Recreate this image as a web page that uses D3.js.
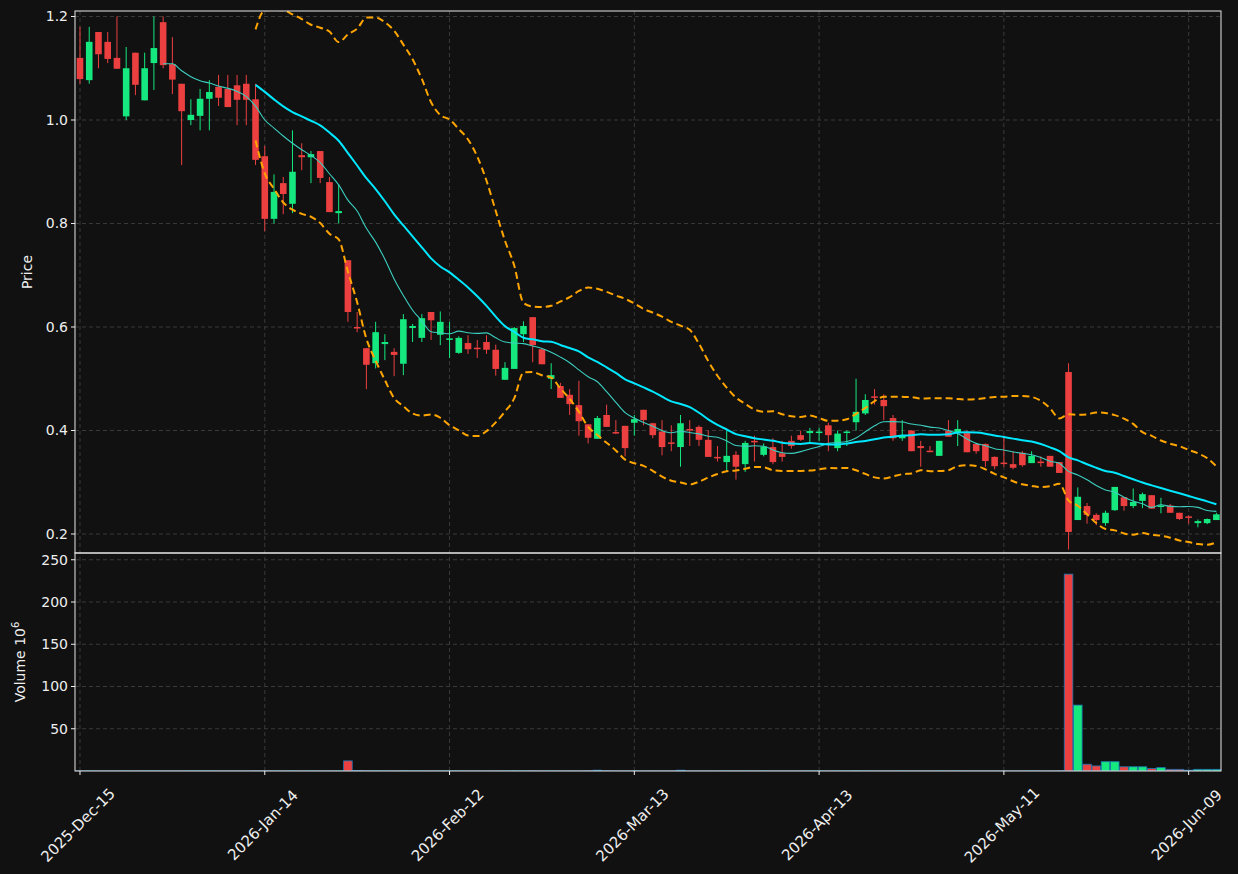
<!DOCTYPE html>
<html><head><meta charset="utf-8">
<script src="https://cdn.jsdelivr.net/npm/d3@7"></script>
<style>body{margin:0;background:#111111;}svg{display:block;font-family:"DejaVu Sans",sans-serif;}</style>
</head><body><svg id="c" width="1238" height="874"></svg>
<script>
const tickLabels=["2025-Dec-15","2026-Jan-14","2026-Feb-12","2026-Mar-13","2026-Apr-13","2026-May-11","2026-Jun-09"];
const tickIdx=[0,20,40,60,80,100,120];
const opens=[1.120,1.077,1.170,1.151,1.120,1.007,1.130,1.038,1.110,1.189,1.108,1.070,1.000,1.008,1.041,1.064,1.060,1.067,1.070,1.040,
0.930,0.809,0.878,0.838,0.932,0.928,0.940,0.880,0.820,0.729,0.600,0.559,0.530,0.567,0.552,0.529,0.598,0.579,0.629,0.585,
0.576,0.550,0.569,0.560,0.571,0.556,0.498,0.519,0.586,0.619,0.557,0.500,0.486,0.469,0.449,0.412,0.384,0.430,0.397,0.409,
0.415,0.440,0.414,0.398,0.377,0.368,0.403,0.407,0.382,0.349,0.339,0.353,0.335,0.380,0.353,0.368,0.356,0.380,0.391,0.395,
0.397,0.410,0.366,0.396,0.416,0.433,0.466,0.459,0.424,0.385,0.400,0.370,0.361,0.351,0.399,0.397,0.395,0.374,0.374,0.349,
0.338,0.335,0.357,0.337,0.340,0.351,0.339,0.513,0.227,0.254,0.237,0.221,0.246,0.271,0.254,0.264,0.275,0.253,0.255,0.241,
0.234,0.221,0.221,0.227];
const closes=[1.079,1.151,1.127,1.118,1.099,1.100,1.068,1.100,1.139,1.106,1.078,1.017,1.010,1.041,1.054,1.043,1.025,1.039,1.039,0.923,
0.809,0.861,0.857,0.900,0.928,0.934,0.888,0.822,0.824,0.629,0.598,0.527,0.590,0.571,0.546,0.615,0.602,0.617,0.613,0.610,
0.578,0.579,0.557,0.559,0.556,0.519,0.521,0.598,0.602,0.565,0.528,0.507,0.463,0.451,0.418,0.386,0.424,0.407,0.396,0.366,
0.422,0.420,0.391,0.368,0.376,0.414,0.400,0.382,0.349,0.348,0.351,0.330,0.376,0.378,0.369,0.339,0.349,0.370,0.382,0.399,
0.398,0.391,0.394,0.398,0.436,0.459,0.464,0.447,0.385,0.391,0.360,0.366,0.360,0.380,0.388,0.403,0.358,0.360,0.341,0.331,
0.337,0.328,0.333,0.351,0.337,0.330,0.318,0.204,0.272,0.237,0.227,0.241,0.291,0.254,0.262,0.277,0.249,0.255,0.241,0.229,
0.232,0.225,0.229,0.238];
const highs=[1.180,1.180,1.170,1.170,1.200,1.141,1.130,1.130,1.200,1.200,1.160,1.070,1.040,1.060,1.077,1.087,1.087,1.087,1.087,1.070,
0.950,0.895,0.890,0.980,0.955,0.940,0.940,0.890,0.876,0.729,0.629,0.559,0.610,0.586,0.559,0.625,0.606,0.625,0.629,0.630,
0.610,0.582,0.584,0.575,0.584,0.566,0.532,0.600,0.611,0.619,0.557,0.530,0.492,0.480,0.496,0.412,0.428,0.450,0.420,0.409,
0.430,0.440,0.415,0.420,0.410,0.430,0.420,0.410,0.400,0.370,0.400,0.360,0.380,0.390,0.375,0.385,0.380,0.390,0.400,0.405,
0.405,0.415,0.400,0.400,0.500,0.470,0.480,0.470,0.430,0.420,0.400,0.380,0.370,0.380,0.420,0.420,0.400,0.375,0.375,0.350,
0.390,0.360,0.360,0.360,0.350,0.351,0.339,0.530,0.290,0.260,0.240,0.245,0.291,0.271,0.288,0.280,0.275,0.270,0.258,0.241,
0.236,0.228,0.230,0.241];
const lows=[1.070,1.070,1.100,1.110,1.099,1.000,1.048,1.038,1.058,1.100,1.050,0.913,0.990,0.980,0.980,1.027,1.027,0.990,0.990,0.913,
0.785,0.800,0.818,0.820,0.903,0.878,0.878,0.822,0.800,0.610,0.590,0.480,0.520,0.536,0.505,0.507,0.571,0.571,0.575,0.565,
0.540,0.548,0.548,0.540,0.548,0.506,0.498,0.519,0.571,0.532,0.528,0.480,0.463,0.430,0.390,0.375,0.384,0.407,0.393,0.350,
0.390,0.410,0.385,0.352,0.360,0.330,0.370,0.370,0.349,0.340,0.320,0.305,0.320,0.340,0.350,0.335,0.340,0.365,0.380,0.375,
0.380,0.360,0.360,0.370,0.400,0.430,0.450,0.420,0.380,0.380,0.360,0.330,0.360,0.351,0.388,0.370,0.358,0.355,0.330,0.325,
0.330,0.325,0.330,0.337,0.330,0.330,0.318,0.170,0.227,0.220,0.217,0.216,0.245,0.245,0.250,0.250,0.249,0.240,0.241,0.227,
0.220,0.213,0.219,0.227];
const volumes=[0.2,0.2,0.2,0.2,0.2,0.2,0.2,0.2,0.2,0.2,0.2,0.2,0.2,0.2,0.2,0.2,0.2,0.2,0.2,0.3,
0.3,0.2,0.2,0.2,0.2,0.2,0.2,0.2,0.2,12,0.5,0.3,0.3,0.2,0.2,0.3,0.2,0.2,0.2,0.2,
0.2,0.2,0.2,0.2,0.2,0.2,0.2,0.3,0.2,0.3,0.2,0.2,0.2,0.2,0.2,0.3,1.0,0.3,0.2,0.2,
0.2,0.2,0.2,0.2,0.2,1.0,0.2,0.2,0.2,0.2,0.2,0.2,0.2,0.2,0.2,0.2,0.2,0.2,0.2,0.2,
0.2,0.2,0.2,0.2,0.3,0.2,0.2,0.2,0.2,0.2,0.2,0.2,0.2,0.2,0.2,0.2,0.2,0.2,0.2,0.2,
0.2,0.2,0.2,0.2,0.2,0.2,0.3,233,78,8,6,11,11,5,5,5,3,4,2,2,
1,2,2,2];
const priceTicks=[0.2,0.4,0.6,0.8,1.0,1.2];
const volTicks=[50,100,150,200,250];

const svg=d3.select("#c");
const L=75,R=1221,PT=11,PB=553,VB=771;
const n=closes.length;
const x=d3.scaleLinear().domain([-0.54,123.5]).range([L,R]);
const y=d3.scaleLinear().domain([0.1633,1.2106]).range([PB,PT]);
const yv=d3.scaleLinear().domain([0,258]).range([VB,PB]);
const UP="#14e87f",DN="#ec3f40",GRID="#3a3a3a",TXT="#eeeeee";

function sma(p){return closes.map((c,i)=>i<p-1?null:d3.mean(closes.slice(i-p+1,i+1)));}
const ma10=sma(10),ma20=sma(20);
const bbU=closes.map((c,i)=>i<19?null:ma20[i]+2*d3.deviation(closes.slice(i-19,i+1)));
const bbL=closes.map((c,i)=>i<19?null:ma20[i]-2*d3.deviation(closes.slice(i-19,i+1)));

svg.append("clipPath").attr("id","pc").append("rect").attr("x",L).attr("y",PT).attr("width",R-L).attr("height",PB-PT);
svg.append("clipPath").attr("id","vc").append("rect").attr("x",L).attr("y",PB).attr("width",R-L).attr("height",VB-PB);

const g=svg.append("g");
tickIdx.forEach(i=>{g.append("line").attr("x1",x(i)).attr("x2",x(i)).attr("y1",PT).attr("y2",VB).attr("stroke",GRID).attr("stroke-dasharray","4,3");});
priceTicks.forEach(t=>{g.append("line").attr("x1",L).attr("x2",R).attr("y1",y(t)).attr("y2",y(t)).attr("stroke",GRID).attr("stroke-dasharray","4,3");});
volTicks.forEach(t=>{g.append("line").attr("x1",L).attr("x2",R).attr("y1",yv(t)).attr("y2",yv(t)).attr("stroke",GRID).attr("stroke-dasharray","4,3");});

const pg=svg.append("g").attr("clip-path","url(#pc)");
const idx=d3.range(n);
pg.selectAll(".w").data(idx).join("line").attr("x1",i=>x(i)).attr("x2",i=>x(i))
 .attr("y1",i=>y(highs[i])).attr("y2",i=>y(lows[i])).attr("stroke",i=>closes[i]>=opens[i]?UP:DN).attr("stroke-width",1);
pg.selectAll(".b").data(idx).join("rect").attr("x",i=>x(i)-3.3).attr("width",6.6)
 .attr("y",i=>y(Math.max(opens[i],closes[i]))).attr("height",i=>Math.max(1.5,Math.abs(y(opens[i])-y(closes[i]))))
 .attr("fill",i=>closes[i]>=opens[i]?UP:DN);
const line=d3.line().defined(d=>d[1]!=null).x(d=>x(d[0])).y(d=>y(d[1])).curve(d3.curveMonotoneX);
pg.append("path").attr("d",line(ma10.map((v,i)=>[i,v]))).attr("fill","none").attr("stroke","#3ccfc0").attr("stroke-width",1.1);
pg.append("path").attr("d",line(ma20.map((v,i)=>[i,v]))).attr("fill","none").attr("stroke","#00e8ff").attr("stroke-width",2);
[bbU,bbL].forEach(b=>pg.append("path").attr("d",line(b.map((v,i)=>[i,v]))).attr("fill","none").attr("stroke","#ffa500").attr("stroke-width",2).attr("stroke-dasharray","7,4"));

const vg=svg.append("g").attr("clip-path","url(#vc)");
vg.selectAll("rect").data(idx).join("rect").attr("x",i=>x(i)-4.3).attr("width",8.6)
 .attr("y",i=>yv(volumes[i])).attr("height",i=>VB-yv(volumes[i]))
 .attr("fill",i=>closes[i]>=opens[i]?UP:DN).attr("stroke","#1f77b4").attr("stroke-width",0.8);

svg.append("rect").attr("x",L).attr("y",PT).attr("width",R-L).attr("height",PB-PT).attr("fill","none").attr("stroke","#e8e8e8");
svg.append("rect").attr("x",L).attr("y",PB).attr("width",R-L).attr("height",VB-PB).attr("fill","none").attr("stroke","#e8e8e8");

const ax=svg.append("g").attr("fill",TXT).attr("font-size",14);
priceTicks.forEach(t=>{ax.append("line").attr("x1",L-4).attr("x2",L).attr("y1",y(t)).attr("y2",y(t)).attr("stroke",TXT);
 ax.append("text").attr("x",L-7).attr("y",y(t)).attr("dy","0.35em").attr("text-anchor","end").text(d3.format(".1f")(t));});
volTicks.forEach(t=>{ax.append("line").attr("x1",L-4).attr("x2",L).attr("y1",yv(t)).attr("y2",yv(t)).attr("stroke",TXT);
 ax.append("text").attr("x",L-7).attr("y",yv(t)).attr("dy","0.35em").attr("text-anchor","end").text(t);});
tickIdx.forEach((i,k)=>{ax.append("line").attr("x1",x(i)).attr("x2",x(i)).attr("y1",VB).attr("y2",VB+4).attr("stroke",TXT);
 ax.append("text").attr("transform",`translate(${x(i)-2},${VB+54}) rotate(-45)`).attr("text-anchor","middle").attr("dy","0.35em").attr("font-size",15).text(tickLabels[k]);});
ax.append("text").attr("transform",`translate(32,${(PT+PB)/2-10}) rotate(-90)`).attr("text-anchor","middle").text("Price");
const vt=ax.append("text").attr("transform",`translate(25,${(PB+VB)/2}) rotate(-90)`).attr("text-anchor","middle");
vt.append("tspan").text("Volume  10");vt.append("tspan").attr("font-size",10).attr("dy",-6).text("6");
</script></body></html>
